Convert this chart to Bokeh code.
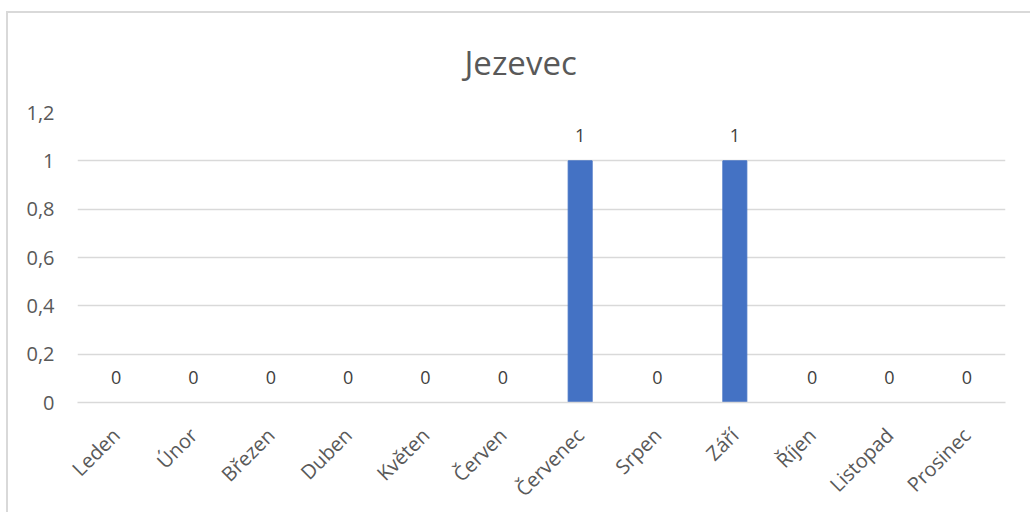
import math
from bokeh.plotting import figure
from bokeh.models import ColumnDataSource, FixedTicker, CustomJSTickFormatter
from bokeh.embed import file_html
from bokeh.resources import INLINE
from bokeh.core.properties import value

# Monthly sightings of the badger
months = ["Leden", "Únor", "Březen", "Duben", "Květen", "Červen",
          "Červenec", "Srpen", "Září", "Říjen", "Listopad", "Prosinec"]
counts = [0, 0, 0, 0, 0, 0, 1, 0, 1, 0, 0, 0]
y_ticks = [0, 0.2, 0.4, 0.6, 0.8, 1.0, 1.2]
title_text = "Jezevec"

FONT = "Open Sans"
GREY = "#595959"
GRID = "#d9d9d9"
BAR = "#4472c4"

src = ColumnDataSource(dict(month=months, count=counts,
                            label=[str(c) for c in counts]))

p = figure(x_range=months, y_range=(0, 1.2), width=1024, height=501,
           output_backend="svg", toolbar_location=None,
           min_border_left=69, min_border_right=27,
           min_border_top=97, min_border_bottom=112)
p.margin = (11, 0, 0, 6)
p.styles = {"border-top": "2px solid #d9d9d9", "border-left": "2px solid #d9d9d9",
            "box-sizing": "border-box"}
p.outline_line_color = None
p.background_fill_color = "white"
p.border_fill_color = "white"

p.title.text = title_text
p.title.align = "left"
p.title.offset = 387
p.title.vertical_align = "top"
p.title.text_font = FONT
p.title.text_font_size = "33px"
p.title.text_font_style = "normal"
p.title.text_color = GREY
p.title.standoff = 52

p.vbar(x="month", top="count", width=0.31, source=src, color=BAR)

p.text(x="month", y="count", text="label", source=src,
       text_align="center", text_baseline="middle", y_offset=-25,
       text_font=value(FONT), text_font_size="18px", text_color="#404040")

# axes
p.xgrid.grid_line_color = None
p.ygrid.grid_line_color = GRID
p.ygrid.grid_line_width = 1.5
p.yaxis.ticker = FixedTicker(ticks=y_ticks)
p.yaxis.formatter = CustomJSTickFormatter(
    code="return (Math.round(tick*10)/10).toString().replace('.', ',');")
for ax in (p.xaxis, p.yaxis):
    ax.major_tick_line_color = None
    ax.minor_tick_line_color = None
    ax.major_label_text_font = FONT
    ax.major_label_text_font_size = "20px"
    ax.major_label_text_color = GREY
p.yaxis.axis_line_color = None
p.yaxis.major_label_standoff = 17
p.xaxis.axis_line_color = GRID
p.xaxis.axis_line_width = 1.5
p.xaxis.major_label_orientation = math.pi / 4
p.xaxis.major_label_standoff = 23

open("out.html", "w").write(file_html(p, INLINE))
